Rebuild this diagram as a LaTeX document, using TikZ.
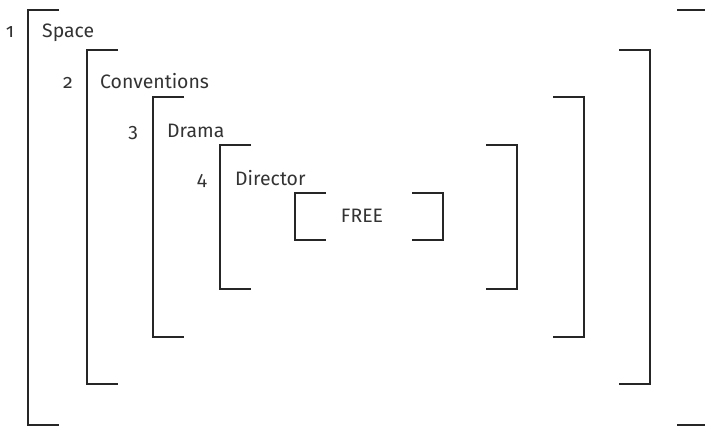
\documentclass[tikz,border=0pt]{standalone}
\usepackage{fontspec}
\setmainfont[Numbers=OldStyle]{Fira Sans}

\tikzset{
    bracket/.style={draw=black!85, line width=2bp},
    label/.style={anchor=base west, inner sep=0pt, text=black!80,
        font=\fontsize{19.5}{22}\selectfont},
    level/.style={anchor=base, inner sep=0pt, text=black!80,
        font=\fontsize{19.5}{22}\selectfont}
}

\begin{document}
\begin{tikzpicture}[x=1bp, y=-1bp]
    \useasboundingbox (0,0) rectangle (705,427);
    % nested frames: left/top/right/bottom
    \foreach \lx/\ty/\rx/\by in {28/10/708/425, 87/50/650/384,
            153/97/584/337, 220/145/517/289, 295/193/443/240} {
        \draw[bracket] (\lx+31,\ty) -- (\lx,\ty) -- (\lx,\by) -- (\lx+31,\by);
        \draw[bracket] (\rx-31,\ty) -- (\rx,\ty) -- (\rx,\by) -- (\rx-31,\by);
    }
    % levels
    \node[level] (num1) at (10,37) {1};
    \node[level] (num2) at (68,88) {2};
    \node[level] (num3) at (133,137) {3};
    \node[level] (num4) at (202,185) {4};
    % labels
    \node[label] (space) at (42,37) {Space};
    \node[label] (conventions) at (100,88) {Conventions};
    \node[label] (drama) at (167,137) {Drama};
    \node[label] (director) at (235,185) {Director};
    \node[label, anchor=base] (free) at (362,222) {FREE};
\end{tikzpicture}
\end{document}
